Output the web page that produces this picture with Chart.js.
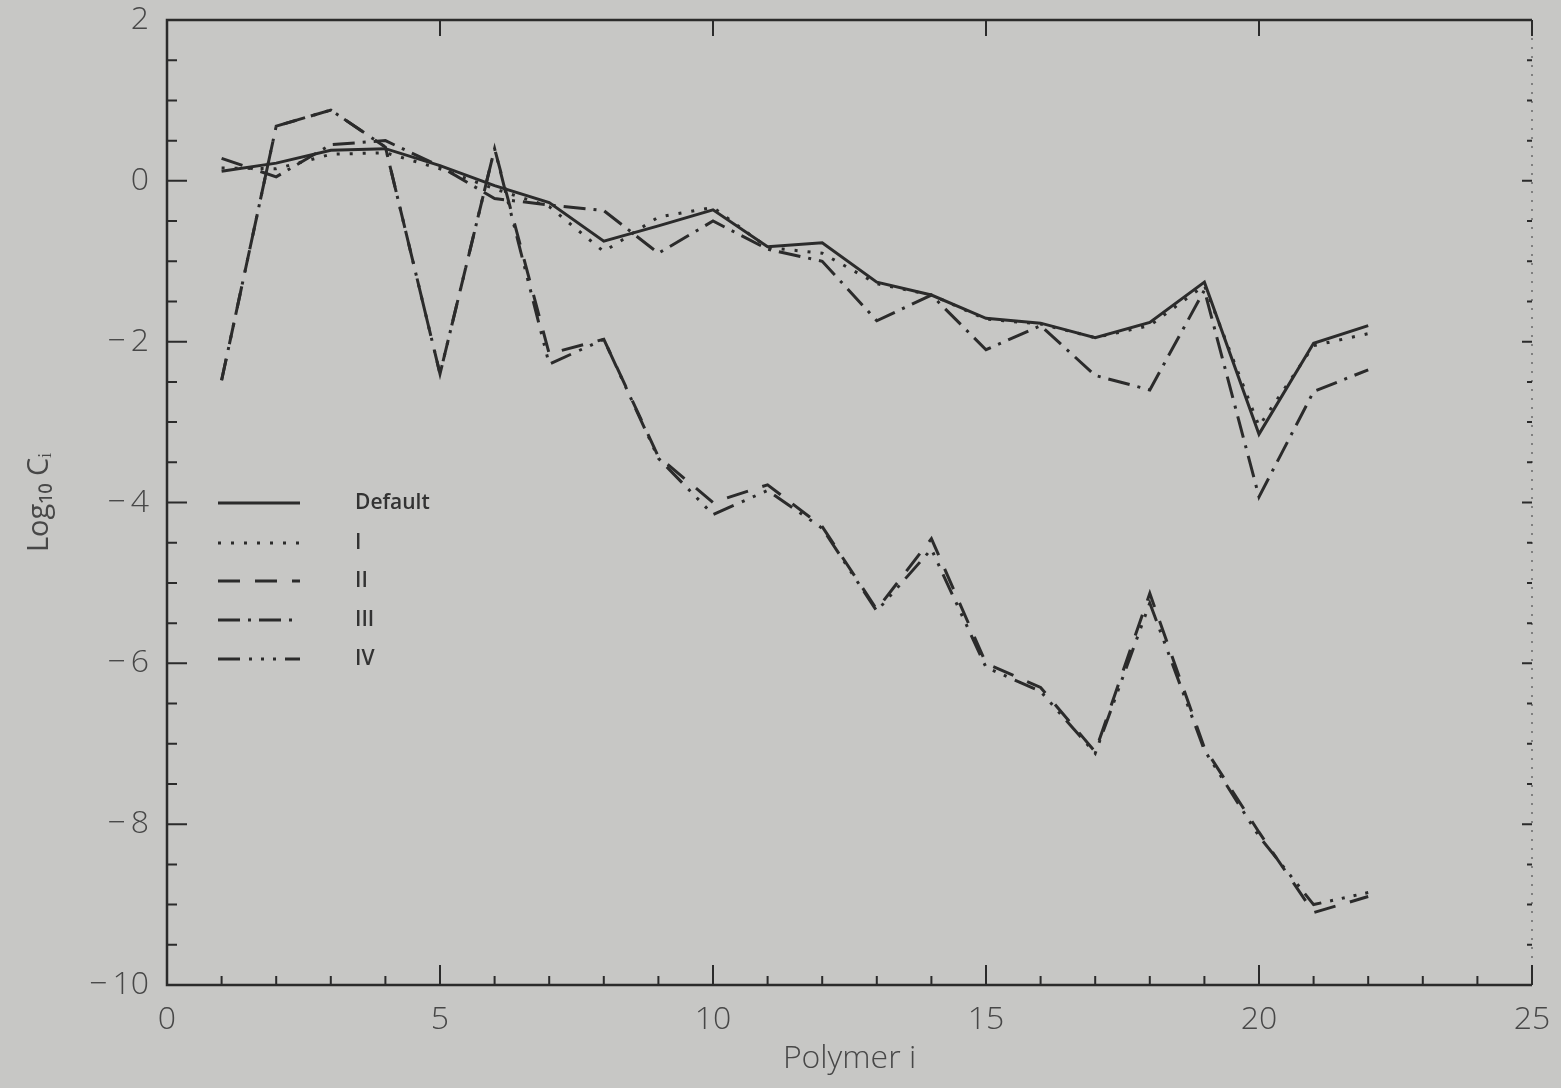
<!DOCTYPE html>
<html>
<head>
<meta charset="utf-8">
<title>Log10 Ci vs Polymer i</title>
<script src="https://cdn.jsdelivr.net/npm/chart.js@4.4.1/dist/chart.umd.min.js"></script>
<style>
  html, body { margin: 0; padding: 0; background: #c7c7c5; }
  #wrap { width: 1561px; height: 1088px; position: relative; }
</style>
</head>
<body>
<div id="wrap"><canvas id="chart"></canvas></div>
<script>
// Dane
const polymer = [1, 2, 3, 4, 5, 6, 7, 8, 9, 10, 11, 12, 13, 14, 15, 16, 17, 18, 19, 20, 21, 22];
const seriesNames = ['Default', 'I', 'II', 'III', 'IV'];
const defaultVals = [0.12, 0.22, 0.38, 0.40, 0.19, -0.06, -0.27, -0.75, -0.56, -0.36, -0.82, -0.77, -1.26, -1.42, -1.71, -1.77, -1.95, -1.76, -1.26, -3.15, -2.02, -1.80];
const set1Vals = [0.16, 0.15, 0.33, 0.35, 0.15, -0.10, -0.32, -0.88, -0.45, -0.33, -0.83, -0.90, -1.28, -1.42, -1.72, -1.78, -1.95, -1.80, -1.30, -3.05, -2.05, -1.90];
const set2Vals = [-2.48, 0.68, 0.88, 0.42, -2.40, 0.40, -2.15, -1.97, -3.43, -4.00, -3.78, -4.30, -5.33, -4.45, -6.00, -6.30, -7.10, -5.13, -7.05, -8.10, -9.10, -8.90];
const set3Vals = [0.28, 0.05, 0.45, 0.50, 0.18, -0.22, -0.30, -0.37, -0.90, -0.50, -0.85, -1.00, -1.74, -1.42, -2.10, -1.80, -2.42, -2.60, -1.36, -3.93, -2.62, -2.35];
const set4Vals = [-2.48, 0.68, 0.88, 0.42, -2.40, 0.40, -2.28, -1.97, -3.45, -4.15, -3.85, -4.32, -5.35, -4.58, -6.05, -6.35, -7.12, -5.25, -7.08, -8.15, -9.00, -8.85];
const xTicks = [0, 5, 10, 15, 20, 25];
const yTicks = [2, 0, -2, -4, -6, -8, -10];

const ink = '#2b2b2b';
const textInk = '#474747';
const dashes = [[], [3, 10], [22, 15], [22, 8, 3, 8], [22, 9, 3, 9, 3, 9, 3, 9]];
const allVals = [defaultVals, set1Vals, set2Vals, set3Vals, set4Vals];

// Ramka z krótkimi kreskami skierowanymi do środka
const frameTicks = {
    id: 'frameTicks',
    afterDraw(chart) {
        const { ctx, chartArea: a, scales: { x, y } } = chart;
        ctx.save();
        ctx.strokeStyle = ink;
        ctx.lineWidth = 2.5;
        ctx.beginPath();
        ctx.moveTo(a.right, a.top);
        ctx.lineTo(a.left, a.top);
        ctx.lineTo(a.left, a.bottom);
        ctx.lineTo(a.right, a.bottom);
        ctx.stroke();

        // prawa krawędź - słabo widoczna w skanie
        ctx.save();
        ctx.strokeStyle = '#6a6a6a';
        ctx.lineWidth = 1.5;
        ctx.setLineDash([2, 7]);
        ctx.beginPath();
        ctx.moveTo(a.right, a.top);
        ctx.lineTo(a.right, a.bottom);
        ctx.stroke();
        ctx.restore();

        ctx.lineWidth = 2;
        ctx.beginPath();
        // oś Y: główne co 2, pomocnicze co 0.5
        for (let v = -10; v <= 2; v += 0.5) {
            const py = y.getPixelForValue(v);
            const major = Math.abs(v % 2) < 1e-9;
            ctx.moveTo(a.left, py);
            ctx.lineTo(a.left + (major ? 20 : 10), py);
            ctx.moveTo(a.right, py);
            ctx.lineTo(a.right - (major ? 10 : 5), py);
        }
        // oś X: główne co 5, pomocnicze co 1
        for (let v = 0; v <= 25; v += 1) {
            const px = x.getPixelForValue(v);
            const major = v % 5 === 0;
            ctx.moveTo(px, a.bottom);
            ctx.lineTo(px, a.bottom - (major ? 20 : 9));
            if (major) {
                ctx.moveTo(px, a.top);
                ctx.lineTo(px, a.top + 16);
            }
        }
        ctx.stroke();
        ctx.restore();
    }
};

// Legenda wewnątrz wykresu
const insideLegend = {
    id: 'insideLegend',
    afterDatasetsDraw(chart) {
        const { ctx } = chart;
        const rows = [503, 543, 581, 620, 659];
        ctx.save();
        chart.data.datasets.forEach((ds, i) => {
            ctx.strokeStyle = ink;
            ctx.lineWidth = 3;
            ctx.setLineDash(ds.borderDash || []);
            ctx.beginPath();
            ctx.moveTo(218, rows[i]);
            ctx.lineTo(300, rows[i]);
            ctx.stroke();
            ctx.setLineDash([]);
            ctx.fillStyle = '#333';
            ctx.font = '600 21px "Open Sans"';
            ctx.textBaseline = 'middle';
            ctx.fillText(ds.label, 355, rows[i]);
        });
        ctx.restore();
    }
};

const ctx = document.getElementById('chart').getContext('2d');
new Chart(ctx, {
    type: 'line',
    data: {
        datasets: seriesNames.map((name, i) => ({
            label: name,
            data: polymer.map((p, j) => ({ x: p, y: allVals[i][j] })),
            borderColor: ink,
            borderWidth: 3,
            borderDash: dashes[i],
            borderCapStyle: 'butt',
            pointRadius: 0,
            tension: 0,
            fill: false
        }))
    },
    options: {
        responsive: true,
        maintainAspectRatio: false,
        animation: false,
        layout: { padding: { left: 0, top: 20, right: 29, bottom: 0 } },
        plugins: {
            legend: { display: false },
            tooltip: { enabled: false }
        },
        scales: {
            x: {
                type: 'linear',
                min: 0,
                max: 25,
                afterFit: (s) => { s.height = 103; s.paddingLeft = 0; s.paddingRight = 0; },
                afterBuildTicks: (s) => { s.ticks = xTicks.map(v => ({ value: v })); },
                grid: { display: false, drawTicks: false },
                border: { display: false },
                ticks: {
                    padding: 16,
                    color: textInk,
                    font: { family: 'Open Sans', weight: 300, size: 32 },
                    maxRotation: 0
                },
                title: {
                    display: true,
                    text: 'Polymer i',
                    color: textInk,
                    font: { family: 'Open Sans', weight: 300, size: 32 },
                    padding: { top: 0, bottom: 10 }
                }
            },
            y: {
                type: 'linear',
                min: -10,
                max: 2,
                afterFit: (s) => { s.width = 167; s.paddingTop = 0; s.paddingBottom = 0; },
                afterBuildTicks: (s) => { s.ticks = yTicks.map(v => ({ value: v })); },
                grid: { display: false, drawTicks: false },
                border: { display: false },
                ticks: {
                    padding: 18,
                    color: textInk,
                    font: { family: 'Open Sans', weight: 300, size: 32 },
                    callback: (v) => v < 0 ? '\u2212\u2009' + Math.abs(v) : String(v)
                },
                title: {
                    display: true,
                    text: 'Log\u2081\u2080 C\u1d62',
                    color: textInk,
                    font: { family: 'Open Sans', weight: 400, size: 29 },
                    padding: { top: 22, bottom: 0 }
                }
            }
        }
    },
    plugins: [frameTicks, insideLegend]
});
</script>
</body>
</html>
